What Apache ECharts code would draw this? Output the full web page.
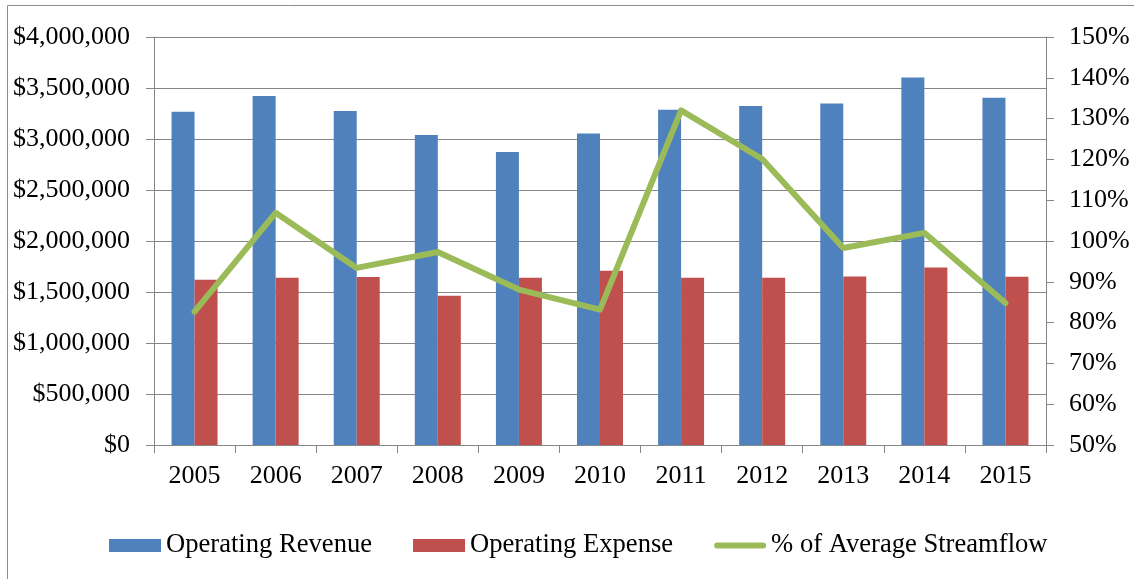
<!DOCTYPE html>
<html>
<head>
<meta charset="utf-8">
<script src="https://cdn.jsdelivr.net/npm/echarts@6/dist/echarts.min.js"></script>
<style>
  html, body { margin: 0; padding: 0; background: #fff; }
  #chart { width: 1134px; height: 579px; }
</style>
</head>
<body>
<div id="chart"></div>
<script>
  // data
  var years = ['2005', '2006', '2007', '2008', '2009', '2010', '2011', '2012', '2013', '2014', '2015'];
  var revenue = [3268000, 3421000, 3274000, 3039000, 2873000, 3055000, 3287000, 3323000, 3349000, 3604000, 3405000];
  var expense = [1621000, 1640000, 1647000, 1464000, 1640000, 1709000, 1640000, 1640000, 1653000, 1741000, 1650000];
  var streamflow = [82.7, 106.9, 93.4, 97.3, 88.1, 83.2, 132.0, 120.1, 98.3, 102.0, 84.8];

  var axisGray = '#868686';
  var font = '"Liberation Serif", "Times New Roman", serif';

  function dollars(v) {
    return '$' + String(v).replace(/\B(?=(\d{3})+(?!\d))/g, ',');
  }

  var chart = echarts.init(document.getElementById('chart'));
  var option = {
    animation: false,
    textStyle: { fontFamily: font },
    graphic: [{
      type: 'rect',
      shape: { x: 7.5, y: 5.5, width: 1200, height: 700 },
      style: { fill: 'none', stroke: '#8c8c8c', lineWidth: 1 },
      silent: true
    }],
    grid: { left: 154, right: 88, top: 37, bottom: 134 },
    legend: {
      left: 104,
      top: 527,
      itemWidth: 52,
      itemHeight: 13,
      itemGap: 41,
      textStyle: { fontFamily: font, fontSize: 26.6, color: '#000' },
      data: [
        { name: 'Operating Revenue', icon: 'rect' },
        { name: 'Operating Expense', icon: 'rect' },
        { name: '% of Average Streamflow', icon: 'path://M3,0 L49,0 A3,3 0 0 1 49,6 L3,6 A3,3 0 0 1 3,0 Z' }
      ]
    },
    xAxis: {
      type: 'category',
      data: years,
      axisLine: { lineStyle: { color: axisGray, width: 1 } },
      axisTick: { show: true, length: 8, lineStyle: { color: axisGray } },
      axisLabel: { color: '#000', fontFamily: font, fontSize: 26, margin: 18 }
    },
    yAxis: [
      {
        type: 'value',
        min: 0,
        max: 4000000,
        interval: 500000,
        axisLine: { show: true, lineStyle: { color: axisGray, width: 1 } },
        axisTick: { show: true, length: 8, lineStyle: { color: axisGray } },
        splitLine: { show: true, lineStyle: { color: axisGray, width: 1 } },
        axisLabel: { color: '#000', fontFamily: font, fontSize: 26, margin: 24, formatter: dollars }
      },
      {
        type: 'value',
        min: 50,
        max: 150,
        interval: 10,
        position: 'right',
        axisLine: { show: true, lineStyle: { color: axisGray, width: 1 } },
        axisTick: { show: true, length: 8, lineStyle: { color: axisGray } },
        splitLine: { show: false },
        axisLabel: { color: '#000', fontFamily: font, fontSize: 26, margin: 23, formatter: '{value}%' }
      }
    ],
    series: [
      {
        name: 'Operating Revenue',
        type: 'bar',
        data: revenue,
        barWidth: 23,
        barGap: '0%',
        itemStyle: { color: '#4F81BD' }
      },
      {
        name: 'Operating Expense',
        type: 'bar',
        data: expense,
        barWidth: 23,
        barGap: '0%',
        itemStyle: { color: '#C0504D' }
      },
      {
        name: '% of Average Streamflow',
        type: 'line',
        yAxisIndex: 1,
        data: streamflow,
        symbol: 'none',
        z: 5,
        lineStyle: { color: '#9BBB59', width: 6, cap: 'round', join: 'round' },
        itemStyle: { color: '#9BBB59' }
      }
    ]
  };
  chart.setOption(option);
</script>
</body>
</html>
